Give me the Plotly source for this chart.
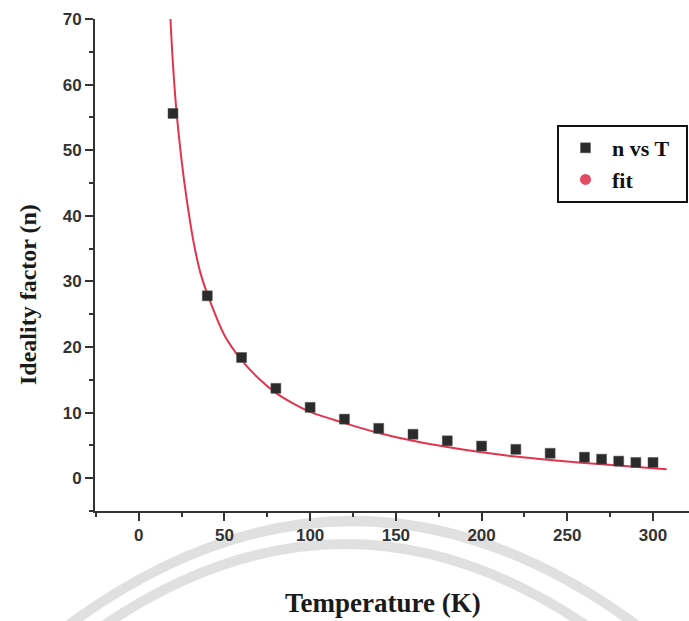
import plotly.graph_objects as go

# Measured ideality factor versus temperature
temperature = [20, 40, 60, 80, 100, 120, 140, 160, 180, 200, 220, 240, 260, 270, 280, 290, 300]
ideality = [55.6, 27.8, 18.4, 13.7, 10.8, 9.0, 7.6, 6.7, 5.7, 4.9, 4.4, 3.8, 3.2, 2.9, 2.6, 2.4, 2.4]

# Fitted curve, sampled along its length
fit_t = [18.5, 20, 22, 25, 28, 32, 36, 41, 50, 60, 70, 80, 90, 100, 120, 140, 160,
         180, 200, 220, 240, 260, 280, 300, 308]
fit_n = [70, 63, 56, 48.5, 42.5, 36, 31.3, 27.4, 21.8, 18.0, 15.2, 13.0, 11.4, 10.1, 8.4, 6.9, 5.7,
         4.75, 3.95, 3.3, 2.78, 2.33, 1.92, 1.53, 1.38]

x_ticks = [0, 50, 100, 150, 200, 250, 300]
y_ticks = [0, 10, 20, 30, 40, 50, 60, 70]

W, H = 689, 621
L, T, R, B = 95, 19, 0, 110
PW, PH = W - L - R, H - T - B

def px(xp):
    return (xp - L) / PW

def py(yp):
    return (H - B - yp) / PH

FIT_RED = "#e3344f"
DARK = "#2b2b2b"
AXIS = "#333333"
SERIF = "Liberation Serif"
SANS = "Liberation Sans"

fig = go.Figure()

fig.add_trace(go.Scatter(
    x=fit_t, y=fit_n, mode="lines",
    line=dict(color=FIT_RED, width=2, shape="spline", smoothing=0.8),
    showlegend=False, hoverinfo="skip",
))
fig.add_trace(go.Scatter(
    x=temperature, y=ideality, mode="markers", name="n vs T\u00a0\u00a0",
    marker=dict(symbol="square", size=10, color=DARK, line=dict(color="#555555", width=0.5)),
))
# legend entry for the fit, shown with a round symbol
fig.add_trace(go.Scatter(
    x=[None], y=[None], mode="markers", name="fit",
    marker=dict(symbol="circle", size=11, color="#e44a62"),
))

# faint watermark arcs behind the lower part of the figure
def arc(x0, x1, ypeak, yend):
    ctrl = 2 * ypeak - yend
    xm = (x0 + x1) / 2
    return (f"M {px(x0)} {py(yend)} Q {px(xm)} {py(ctrl)} {px(x1)} {py(yend)}")

shapes = [
    dict(type="path", xref="paper", yref="paper", path=arc(55, 650, 521, 635),
         line=dict(color="#e0e0e0", width=10), layer="below"),
    dict(type="path", xref="paper", yref="paper", path=arc(90, 600, 544, 635),
         line=dict(color="#e0e0e0", width=10), layer="below"),
]

axis_common = dict(
    showline=True, linecolor=AXIS, linewidth=2, mirror=False,
    ticks="outside", ticklen=8, tickwidth=2, tickcolor=AXIS,
    showgrid=False, zeroline=False,
    tickfont=dict(family=SANS, size=17, color=AXIS, weight="bold"),
)

fig.update_layout(
    width=W, height=H,
    margin=dict(l=L, r=R, t=T, b=B, pad=0),
    paper_bgcolor="white", plot_bgcolor="white",
    xaxis=dict(range=[-25.5, 321], tickvals=x_ticks,
               minor=dict(ticks="outside", ticklen=4, tickwidth=1.5, tickcolor=AXIS, dtick=25, tick0=0),
               **axis_common),
    yaxis=dict(range=[-5, 70], tickvals=y_ticks,
               minor=dict(ticks="outside", ticklen=4, tickwidth=1.5, tickcolor=AXIS, dtick=5, tick0=0),
               **axis_common),
    legend=dict(
        x=px(557), y=py(125), xanchor="left", yanchor="top",
        bordercolor="#111111", borderwidth=2, bgcolor="white",
        font=dict(family=SERIF, size=22, color="#111111", weight="bold"),
        itemwidth=43, tracegroupgap=0,
    ),
    shapes=shapes,
    annotations=[
        dict(text="Ideality factor (n)", xref="paper", yref="paper", x=px(28), y=py(295),
             textangle=-90, showarrow=False, xanchor="center", yanchor="middle",
             font=dict(family=SERIF, size=24, color="#1a1a1a", weight="bold")),
        dict(text="Temperature (K)", xref="paper", yref="paper", x=px(383), y=py(603),
             showarrow=False, xanchor="center", yanchor="middle",
             font=dict(family=SERIF, size=27, color="#1a1a1a", weight="bold")),
    ],
)

fig.write_html("out.html")
